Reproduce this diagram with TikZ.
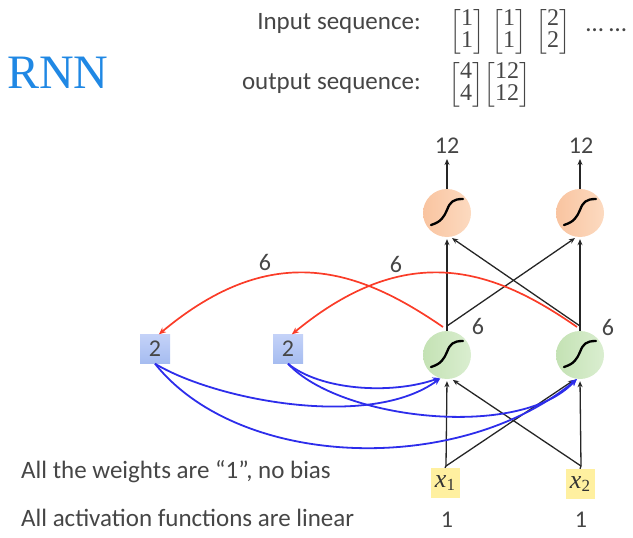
\documentclass[tikz,border=0pt]{standalone}
\usepackage{amsmath}
\usepackage{fontspec}
\setmainfont{Carlito}
\newfontfamily\tnr{Liberation Serif}
\usetikzlibrary{arrows.meta,calc}
\definecolor{txtgray}{RGB}{70,70,70}
\definecolor{rnnblue}{RGB}{32,136,228}
\definecolor{redc}{RGB}{250,60,40}
\definecolor{bluec}{RGB}{45,45,235}
\definecolor{orL}{RGB}{249,196,160}
\definecolor{orR}{RGB}{252,218,192}
\definecolor{grL}{RGB}{196,226,180}
\definecolor{grR}{RGB}{218,238,208}
\definecolor{bxT}{RGB}{196,210,248}
\definecolor{bxB}{RGB}{165,188,240}
\definecolor{yel}{RGB}{255,240,160}
\newcommand\sigm[1]{\draw[line width=2.3pt, line cap=round, shift={(#1)}] (-16,12) .. controls (-6,9) and (-3,4) .. (0,-3) .. controls (3,-11) and (6,-14) .. (16,-14);}
\newcommand\vecpair[2]{$\left[\begin{tabular}{@{}c@{}}#1\\#2\end{tabular}\right]$}
\begin{document}
\begin{tikzpicture}[x=1pt,y=-1pt,
  txt/.style={text=txtgray, font=\fontsize{25}{30}\selectfont, inner sep=0},
  mat/.style={text=txtgray, font=\tnr\fontsize{24}{24}\selectfont\renewcommand\arraystretch{0.88}, inner sep=0},
  lbl/.style={text=txtgray, font=\fontsize{24}{28}\selectfont, inner sep=0},
  orangeneuron/.style={circle, minimum size=48pt, inner sep=0, left color=orL, right color=orR},
  greenneuron/.style={circle, minimum size=48pt, inner sep=0, left color=grL, right color=grR},
  memcell/.style={rectangle, minimum width=30pt, minimum height=29pt, inner sep=0, top color=bxT, bottom color=bxB, text=txtgray, font=\fontsize{24}{26}\selectfont},
  inbox/.style={rectangle, minimum width=29pt, minimum height=30pt, inner sep=0, fill=yel, text=black!80, font=\tnr\fontsize{26}{30}\selectfont},
  blk/.style={draw=black!85, line width=1.3pt, -{Stealth[length=6pt,width=5pt]}},
  redarr/.style={draw=redc, line width=1.7pt, -{Stealth[length=7pt,width=6pt]}},
  bluearr/.style={draw=bluec, line width=1.8pt, -{Stealth[length=7pt,width=6pt]}}
]
\useasboundingbox (0,0) rectangle (633,538);

% title
\node[anchor=base west, inner sep=0, text=rnnblue, font=\tnr\fontsize{48}{52}\selectfont] (title) at (7,88) {RNN};

% sequences
\node[txt, anchor=base east] (inseq) at (421,29) {Input sequence:};
\node[mat] (m1) at (467,32) {\vecpair{1}{1}};
\node[mat] (m2) at (509,32) {\vecpair{1}{1}};
\node[mat] (m3) at (553,32) {\vecpair{2}{2}};
\node[txt, anchor=west] (dots) at (586,30) {… …};
\node[txt, anchor=base east] (outseq) at (421,89) {output sequence:};
\node[mat] (m4) at (466,85) {\vecpair{4}{4}};
\node[mat] (m5) at (507,85) {\vecpair{12}{12}};

% neurons
\node[orangeneuron] (o1) at (447,213) {};
\node[orangeneuron] (o2) at (580,213) {};
\node[greenneuron] (g1) at (447,355) {};
\node[greenneuron] (g2) at (580,355) {};
\sigm{o1}\sigm{o2}\sigm{g1}\sigm{g2}

% memory cells
\node[memcell] (b1) at (155,349) {2};
\node[memcell] (b2) at (288,349) {2};

% inputs
\node[inbox] (x1) at (445,483) {\itshape x\raisebox{-0.3ex}{\upshape\fontsize{17}{18}\selectfont 1}};
\node[inbox] (x2) at (580,484) {\itshape x\raisebox{-0.3ex}{\upshape\fontsize{17}{18}\selectfont 2}};

% labels
\node[lbl] (y1) at (447,146) {12};
\node[lbl] (y2) at (581,146) {12};
\node[lbl] (h1) at (478,326) {6};
\node[lbl] (h2) at (608,327) {6};
\node[lbl] (r1l) at (265,262) {6};
\node[lbl] (r2l) at (396,264) {6};
\node[lbl] (v1) at (447,520) {1};
\node[lbl] (v2) at (581,520) {1};

% bottom notes
\node[txt, anchor=base west] (note1) at (21,478) {All the weights are “1”, no bias};
\node[txt, anchor=base west] (note2) at (21,526) {All activation functions are linear};

% junction coordinates
\coordinate (g1t) at (447,326);
\coordinate (g2t) at (580,326);
\coordinate (x1t) at (446,466);
\coordinate (x2t) at (581,466);
\coordinate (t1) at (447,159);
\coordinate (t2) at (580,159);

% outputs
\draw[blk] (o1.north) -- (t1);
\draw[blk] (o2.north) -- (t2);
\draw[blk, shorten >=2pt] (g1t) -- (o1.south);
\draw[blk, shorten >=2pt] (g1t) -- (o2.-98);
\draw[blk, shorten >=2pt] (g2t) -- (o2.south);
\draw[blk, shorten >=2pt] (g2t) -- (o1.-82);
\draw[draw=black!85, line width=1.3pt] (g1t) -- (g1.north);
\draw[draw=black!85, line width=1.3pt] (g2t) -- (g2.north);

% inputs to hidden
\draw[blk, shorten >=2pt] (x1t) -- (g1.south);
\draw[blk, shorten >=2pt] (x1t) -- (g2.-100);
\draw[blk, shorten >=2pt] (x2t) -- (g2.south);
\draw[blk, shorten >=2pt] (x2t) -- (g1.-80);
\draw[draw=black!85, line width=1.3pt] (x1t) -- (x1.north);
\draw[draw=black!85, line width=1.3pt] (x2t) -- (x2.north);

% red copy arrows
\draw[redarr] ($(g1t)+(-4,1)$) .. controls (360,270) and (274,238) .. (b1.75);
\draw[redarr] ($(g2t)+(-3,1)$) .. controls (495,270) and (409,238) .. (b2.75);

% blue memory arrows
\draw[bluearr] (b1.south) .. controls (215,400) and (370,430) .. (g1.-106);
\draw[bluearr] (b1.south) .. controls (240,470) and (460,476) .. (g2.-97);
\draw[bluearr] (b2.south) .. controls (320,390) and (390,395) .. (g1.-108);
\draw[bluearr] (b2.south) .. controls (340,420) and (520,440) .. (g2.-98);
\end{tikzpicture}
\end{document}
